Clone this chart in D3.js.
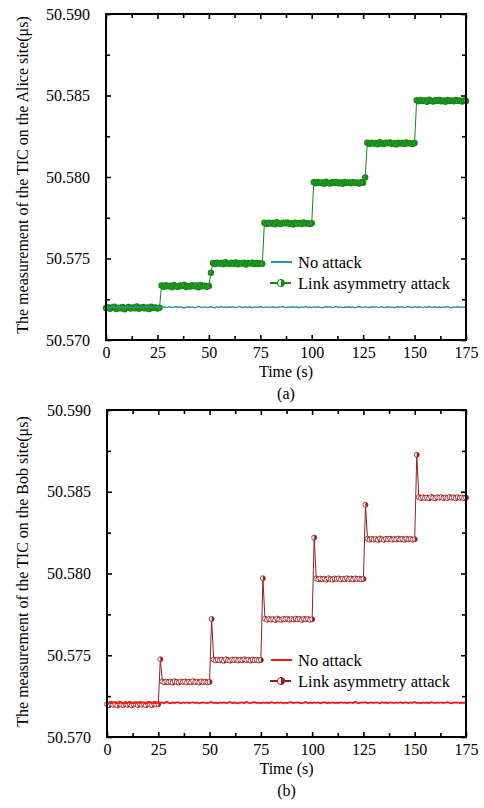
<!DOCTYPE html>
<html>
<head>
<meta charset="utf-8">
<script src="https://cdn.jsdelivr.net/npm/d3@7"></script>
<style>
  body { margin: 0; background: #fff; }
  svg text { font-family: "Liberation Serif", "Times New Roman", serif; fill: #000; }
</style>
</head>
<body>
<svg width="484" height="808"></svg>
<script>
// time in seconds (one sample per second)
const time = [0,1,2,3,4,5,6,7,8,9,10,11,12,13,14,15,16,17,18,19,20,21,22,23,24,25,26,27,28,29,
  30,31,32,33,34,35,36,37,38,39,40,41,42,43,44,45,46,47,48,49,50,51,52,53,54,55,56,57,58,59,
  60,61,62,63,64,65,66,67,68,69,70,71,72,73,74,75,76,77,78,79,80,81,82,83,84,85,86,87,88,89,
  90,91,92,93,94,95,96,97,98,99,100,101,102,103,104,105,106,107,108,109,110,111,112,113,114,115,116,117,118,119,
  120,121,122,123,124,125,126,127,128,129,130,131,132,133,134,135,136,137,138,139,140,141,142,143,144,145,146,147,148,149,
  150,151,152,153,154,155,156,157,158,159,160,161,162,163,164,165,166,167,168,169,170,171,172,173,174,175];

const xTicks = [0, 25, 50, 75, 100, 125, 150, 175];
const xMinorTicks = [12.5, 37.5, 62.5, 87.5, 112.5, 137.5, 162.5];
const yTicks = [50.570, 50.575, 50.580, 50.585, 50.590];
const yMinorTicks = [50.5725, 50.5775, 50.5825, 50.5875];
const seriesNames = ["No attack", "Link asymmetry attack"];

// (a) Alice site
const aliceNoAttack = [
  50.57203,50.57200,50.57204,50.57201,50.57199,50.57203,50.57205,50.57200,50.57202,50.57198,50.57204,50.57201,50.57203,50.57199,50.57202,50.57205,
  50.57200,50.57203,50.57198,50.57202,50.57204,50.57201,50.57199,50.57203,50.57200,50.57206,50.57201,50.57198,50.57203,50.57202,50.57200,50.57204,
  50.57199,50.57202,50.57205,50.57200,50.57203,50.57201,50.57197,50.57202,50.57204,50.57200,50.57203,50.57199,50.57202,50.57206,50.57201,50.57200,
  50.57203,50.57199,50.57202,50.57204,50.57200,50.57198,50.57203,50.57201,50.57205,50.57200,50.57202,50.57199,50.57204,50.57201,50.57203,50.57200,
  50.57202,50.57206,50.57199,50.57201,50.57203,50.57200,50.57204,50.57198,50.57202,50.57203,50.57200,50.57205,50.57201,50.57199,50.57203,50.57202,
  50.57200,50.57204,50.57201,50.57198,50.57203,50.57202,50.57205,50.57200,50.57199,50.57203,50.57201,50.57204,50.57200,50.57202,50.57198,50.57203,
  50.57201,50.57205,50.57200,50.57202,50.57199,50.57203,50.57201,50.57204,50.57200,50.57197,50.57202,50.57204,50.57201,50.57203,50.57200,50.57202,
  50.57206,50.57200,50.57203,50.57199,50.57202,50.57201,50.57204,50.57200,50.57203,50.57198,50.57202,50.57205,50.57201,50.57200,50.57203,50.57202,
  50.57199,50.57204,50.57201,50.57203,50.57200,50.57202,50.57205,50.57199,50.57201,50.57204,50.57200,50.57203,50.57198,50.57202,50.57204,50.57201,
  50.57203,50.57200,50.57202,50.57206,50.57199,50.57201,50.57203,50.57200,50.57204,50.57202,50.57199,50.57203,50.57201,50.57205,50.57200,50.57202,
  50.57204,50.57199,50.57202,50.57200,50.57203,50.57201,50.57205,50.57200,50.57198,50.57203,50.57202,50.57204,50.57200,50.57203,50.57201,50.57202];

const aliceAttack = [
  // 0-26
  50.57196,50.57201,50.57192,50.57199,50.57205,50.57190,50.57198,50.57194,50.57203,50.57189,50.57197,50.57202,50.57193,50.57200,
  50.57195,50.57206,50.57191,50.57198,50.57202,50.57194,50.57199,50.57190,50.57204,50.57196,50.57200,50.57193,50.57198,
  // 27-50
  50.57334,50.57327,50.57336,50.57329,50.57333,50.57324,50.57338,50.57330,50.57326,50.57335,50.57331,50.57339,
  50.57325,50.57332,50.57328,50.57336,50.57330,50.57334,50.57323,50.57337,50.57329,50.57333,50.57327,50.57332,
  // 51
  50.57413,
  // 52-76
  50.57473,50.57466,50.57475,50.57469,50.57472,50.57464,50.57477,50.57470,50.57467,50.57474,50.57468,50.57476,50.57465,
  50.57471,50.57469,50.57474,50.57463,50.57472,50.57470,50.57475,50.57467,50.57473,50.57466,50.57471,50.57468,
  // 77-100
  50.57719,50.57712,50.57720,50.57714,50.57718,50.57710,50.57722,50.57715,50.57711,50.57719,50.57716,50.57721,
  50.57713,50.57717,50.57709,50.57720,50.57714,50.57718,50.57712,50.57721,50.57715,50.57717,50.57711,50.57716,
  // 101-126
  50.57968,50.57961,50.57969,50.57963,50.57967,50.57959,50.57971,50.57964,50.57960,50.57968,50.57965,50.57970,50.57962,
  50.57966,50.57958,50.57969,50.57963,50.57967,50.57961,50.57970,50.57964,50.57966,50.57960,50.57968,50.57965,50.57998,
  // 127-150
  50.58210,50.58203,50.58211,50.58205,50.58209,50.58201,50.58213,50.58206,50.58202,50.58210,50.58207,50.58212,
  50.58204,50.58208,50.58200,50.58211,50.58205,50.58209,50.58203,50.58212,50.58206,50.58208,50.58202,50.58209,
  // 151-175
  50.58471,50.58464,50.58472,50.58466,50.58470,50.58462,50.58474,50.58467,50.58463,50.58471,50.58468,50.58473,50.58465,
  50.58469,50.58461,50.58472,50.58466,50.58470,50.58464,50.58473,50.58467,50.58469,50.58463,50.58470,50.58466];

// (b) Bob site
const bobNoAttack = [
  50.57208,50.57211,50.57206,50.57210,50.57213,50.57207,50.57209,50.57212,50.57205,50.57210,50.57208,50.57213,50.57209,50.57206,50.57211,50.57210,
  50.57207,50.57212,50.57209,50.57205,50.57211,50.57214,50.57208,50.57210,50.57206,50.57212,50.57209,50.57211,50.57207,50.57216,50.57209,50.57206,
  50.57211,50.57208,50.57213,50.57210,50.57206,50.57212,50.57209,50.57211,50.57207,50.57210,50.57213,50.57208,50.57211,50.57206,50.57210,50.57212,
  50.57209,50.57207,50.57211,50.57213,50.57208,50.57210,50.57206,50.57212,50.57209,50.57211,50.57207,50.57210,50.57214,50.57208,50.57211,50.57209,
  50.57206,50.57212,50.57210,50.57208,50.57215,50.57209,50.57207,50.57211,50.57213,50.57208,50.57210,50.57206,50.57212,50.57209,50.57211,50.57208,
  50.57213,50.57210,50.57207,50.57211,50.57209,50.57212,50.57206,50.57210,50.57208,50.57213,50.57211,50.57207,50.57210,50.57212,50.57209,50.57206,
  50.57211,50.57214,50.57208,50.57210,50.57207,50.57212,50.57209,50.57211,50.57206,50.57210,50.57213,50.57208,50.57211,50.57209,50.57212,50.57207,
  50.57210,50.57208,50.57213,50.57209,50.57211,50.57206,50.57212,50.57210,50.57208,50.57215,50.57209,50.57207,50.57211,50.57210,50.57213,50.57208,
  50.57209,50.57212,50.57207,50.57211,50.57210,50.57206,50.57213,50.57209,50.57211,50.57208,50.57212,50.57210,50.57207,50.57211,50.57209,50.57213,
  50.57208,50.57210,50.57212,50.57207,50.57211,50.57209,50.57214,50.57208,50.57210,50.57206,50.57212,50.57209,50.57211,50.57208,50.57213,50.57210,
  50.57207,50.57211,50.57209,50.57212,50.57208,50.57210,50.57213,50.57209,50.57206,50.57211,50.57210,50.57212,50.57208,50.57211,50.57209,50.57210];

const bobAttack = [
  // 0-25
  50.57201,50.57194,50.57203,50.57197,50.57200,50.57192,50.57205,50.57198,50.57195,50.57202,50.57196,50.57204,50.57193,
  50.57199,50.57201,50.57195,50.57203,50.57197,50.57200,50.57194,50.57202,50.57198,50.57196,50.57203,50.57199,50.57201,
  50.57476,
  // 27-50
  50.57340,50.57334,50.57339,50.57335,50.57338,50.57332,50.57341,50.57336,50.57333,50.57339,50.57337,50.57340,
  50.57334,50.57338,50.57335,50.57341,50.57336,50.57339,50.57333,50.57340,50.57336,50.57338,50.57334,50.57337,
  50.57722,
  // 52-75
  50.57474,50.57468,50.57473,50.57469,50.57472,50.57466,50.57475,50.57470,50.57467,50.57473,50.57471,50.57474,
  50.57468,50.57472,50.57469,50.57475,50.57470,50.57473,50.57467,50.57474,50.57470,50.57472,50.57468,50.57471,
  50.57971,
  // 77-100
  50.57723,50.57717,50.57722,50.57718,50.57721,50.57715,50.57724,50.57719,50.57716,50.57722,50.57720,50.57723,
  50.57717,50.57721,50.57718,50.57724,50.57719,50.57722,50.57716,50.57723,50.57719,50.57721,50.57717,50.57720,
  50.58220,
  // 102-125
  50.57970,50.57964,50.57969,50.57965,50.57968,50.57962,50.57971,50.57966,50.57963,50.57969,50.57967,50.57970,
  50.57964,50.57968,50.57965,50.57971,50.57966,50.57969,50.57963,50.57970,50.57966,50.57968,50.57964,50.57967,
  50.58420,
  // 127-150
  50.58213,50.58207,50.58212,50.58208,50.58211,50.58205,50.58214,50.58209,50.58206,50.58212,50.58210,50.58213,
  50.58207,50.58211,50.58208,50.58214,50.58209,50.58212,50.58206,50.58213,50.58209,50.58211,50.58207,50.58210,
  50.58726,
  // 152-175
  50.58467,50.58461,50.58466,50.58462,50.58465,50.58459,50.58468,50.58463,50.58460,50.58466,50.58464,50.58467,
  50.58461,50.58465,50.58462,50.58468,50.58463,50.58466,50.58460,50.58467,50.58463,50.58465,50.58461,50.58464];

const svg = d3.select("svg");

// half filled circle: light left half, coloured right half
function marker(g, cx, cy, r, color, sw, inner) {
  g.append("circle").attr("cx", cx).attr("cy", cy).attr("r", r)
    .attr("fill", inner || "#fff").attr("stroke", color).attr("stroke-width", sw);
  g.append("path")
    .attr("d", `M${cx},${cy - r} A${r},${r} 0 0 1 ${cx},${cy + r} Z`)
    .attr("fill", color);
}

function drawPanel(p) {
  const x = d3.scaleLinear().domain([0, 175]).range([p.left, p.right]);
  const y = d3.scaleLinear().domain([50.570, 50.590]).range([p.bottom, p.top]);
  const g = svg.append("g");

  // ticks on all four sides, pointing inward
  const axes = [
    [d3.axisBottom(x).tickValues(xTicks).tickFormat(d3.format("d")), `translate(0,${p.bottom})`, 7, 5],
    [d3.axisBottom(x).tickValues(xMinorTicks), `translate(0,${p.bottom})`, 0, 4],
    [d3.axisTop(x).tickValues(xTicks), `translate(0,${p.top})`, 0, 5],
    [d3.axisTop(x).tickValues(xMinorTicks), `translate(0,${p.top})`, 0, 4],
    [d3.axisLeft(y).tickValues(yTicks).tickFormat(d3.format(".3f")), `translate(${p.left},0)`, 16, 5],
    [d3.axisLeft(y).tickValues(yMinorTicks), `translate(${p.left},0)`, 0, 4],
    [d3.axisRight(y).tickValues(yTicks), `translate(${p.right},0)`, 0, 5],
    [d3.axisRight(y).tickValues(yMinorTicks), `translate(${p.right},0)`, 0, 4]
  ];
  axes.forEach(([ax, tr, pad, len]) => {
    ax.tickSizeInner(-len).tickSizeOuter(0).tickPadding(pad || 3);
    if (!pad) ax.tickFormat("");
    const a = g.append("g").attr("transform", tr).call(ax);
    a.select(".domain").remove();
    a.selectAll("line").attr("stroke", "#000").attr("stroke-width", 1.6);
    a.selectAll("text").attr("font-size", 16)
      .attr("font-family", "Liberation Serif, Times New Roman, serif");
  });

  const line = d3.line().x((d, i) => x(time[i])).y(d => y(d));

  // attack series: thin line + half filled markers
  g.append("path").datum(p.attack).attr("d", line)
    .attr("fill", "none").attr("stroke", p.attackColor).attr("stroke-width", 1);
  const mk = g.append("g");
  p.attack.forEach((v, i) => marker(mk, x(time[i]), y(v), p.r, p.attackColor, p.msw, p.inner));

  // no attack
  g.append("path").datum(p.base).attr("d", line)
    .attr("fill", "none").attr("stroke", p.baseColor).attr("stroke-width", p.baseWidth);

  // frame
  g.append("rect").attr("x", p.left).attr("y", p.top)
    .attr("width", p.right - p.left).attr("height", p.bottom - p.top)
    .attr("fill", "none").attr("stroke", "#000").attr("stroke-width", 2);

  // legend
  const lg = g.append("g");
  lg.append("line").attr("x1", 271).attr("x2", 292).attr("y1", p.legY).attr("y2", p.legY)
    .attr("stroke", p.baseColor).attr("stroke-width", 2);
  lg.append("line").attr("x1", 270).attr("x2", 291).attr("y1", p.legY + 21).attr("y2", p.legY + 21)
    .attr("stroke", p.attackColor).attr("stroke-width", 2);
  marker(lg, 281, p.legY + 21, 3.6, p.attackColor, 1);
  lg.selectAll("text").data(seriesNames).join("text")
    .attr("x", 298).attr("y", (d, i) => p.legY + 5.5 + i * 21)
    .attr("font-size", 16.5).text(d => d);

  // titles
  g.append("text").attr("transform", "rotate(-90)")
    .attr("x", -(p.top + p.bottom) / 2 + 2).attr("y", 28)
    .attr("text-anchor", "middle").attr("font-size", 16).text(p.ylabel);
  g.append("text").attr("x", (p.left + p.right) / 2).attr("y", p.bottom + 37)
    .attr("text-anchor", "middle").attr("font-size", 16).text("Time (s)");
  g.append("text").attr("x", (p.left + p.right) / 2).attr("y", p.bottom + 59)
    .attr("text-anchor", "middle").attr("font-size", 16).text(p.tag);
}

drawPanel({
  left: 106, right: 466, top: 14, bottom: 340,
  attack: aliceAttack, base: aliceNoAttack,
  attackColor: "#138a13", inner: "#3a9e3a", msw: 1.2, baseColor: "#23979a", baseWidth: 1.4, r: 2.6,
  legY: 262, tag: "(a)",
  ylabel: "The measurement of the TIC on the Alice site(\u03bcs)"
});

drawPanel({
  left: 107, right: 466, top: 410, bottom: 737,
  attack: bobAttack, base: bobNoAttack,
  attackColor: "#9c1c1c", msw: 0.8, baseColor: "#f01818", baseWidth: 1.8, r: 2.5,
  legY: 660, tag: "(b)",
  ylabel: "The measurement of the TIC on the Bob site(\u03bcs)"
});
</script>
</body>
</html>
